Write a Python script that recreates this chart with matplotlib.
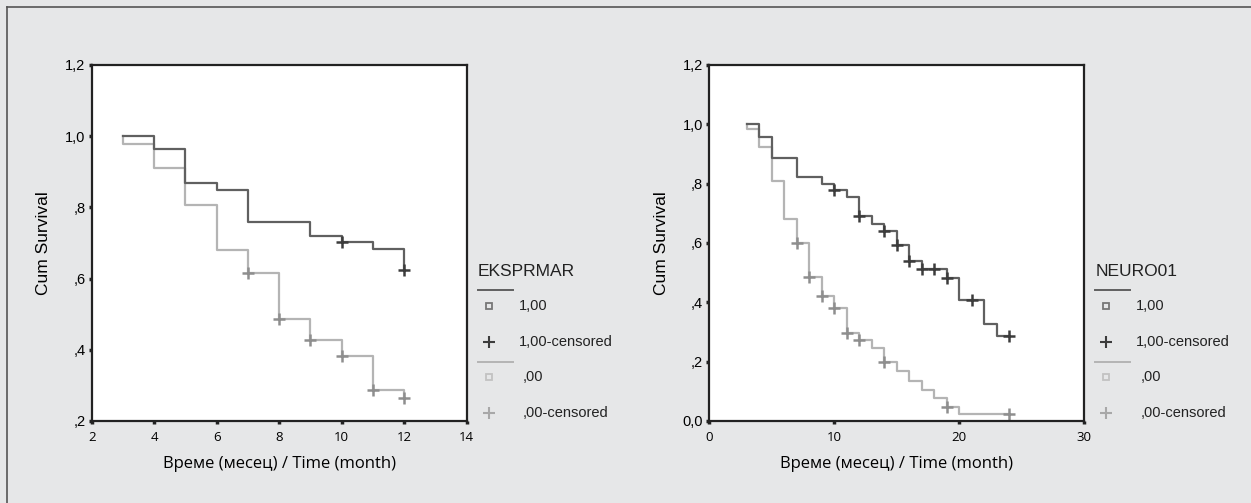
import matplotlib
matplotlib.use("Agg")
import matplotlib.pyplot as plt
from matplotlib.lines import Line2D

# ---- data ----
# left panel: EKSPRMAR
eks_hi_t = [3, 4, 5, 6, 7, 9, 10, 11, 12]
eks_hi_s = [1.0, 0.964, 0.869, 0.850, 0.758, 0.721, 0.703, 0.684, 0.625]
eks_hi_cens_t = [10, 12]
eks_hi_cens_s = [0.703, 0.625]
eks_lo_t = [3, 3, 4, 5, 6, 7, 8, 9, 10, 11, 12]
eks_lo_s = [1.0, 0.978, 0.912, 0.807, 0.681, 0.615, 0.486, 0.427, 0.383, 0.288, 0.265]
eks_lo_cens_t = [7, 8, 9, 10, 11, 12]
eks_lo_cens_s = [0.615, 0.486, 0.427, 0.383, 0.288, 0.265]

# right panel: NEURO01
neu_hi_t = [3, 4, 5, 7, 9, 10, 11, 12, 13, 14, 15, 16, 17, 19, 20, 22, 23, 24]
neu_hi_s = [1.0, 0.958, 0.888, 0.822, 0.798, 0.778, 0.755, 0.691, 0.663, 0.640,
            0.593, 0.539, 0.511, 0.482, 0.407, 0.326, 0.287, 0.287]
neu_hi_cens_t = [10, 12, 14, 15, 16, 17, 18, 19, 21, 24]
neu_hi_cens_s = [0.778, 0.691, 0.640, 0.593, 0.539, 0.511, 0.511, 0.482, 0.407, 0.287]
neu_lo_t = [3, 3, 4, 5, 6, 7, 8, 9, 10, 11, 12, 13, 14, 15, 16, 17, 18, 19, 20, 24]
neu_lo_s = [1.0, 0.983, 0.924, 0.809, 0.682, 0.601, 0.485, 0.420, 0.382, 0.296, 0.273,
            0.245, 0.199, 0.169, 0.135, 0.106, 0.076, 0.046, 0.022, 0.022]
neu_lo_cens_t = [7, 8, 9, 10, 11, 12, 14, 19, 24]
neu_lo_cens_s = [0.601, 0.485, 0.420, 0.382, 0.296, 0.273, 0.199, 0.046, 0.022]

eks_xticks = [2, 4, 6, 8, 10, 12, 14]
eks_yticks = [0.2, 0.4, 0.6, 0.8, 1.0, 1.2]
eks_ylabels = [",2", ",4", ",6", ",8", "1,0", "1,2"]
neu_xticks = [0, 10, 20, 30]
neu_yticks = [0.0, 0.2, 0.4, 0.6, 0.8, 1.0, 1.2]
neu_ylabels = ["0,0", ",2", ",4", ",6", ",8", "1,0", "1,2"]

group_labels = ["1,00", "1,00-censored", ",00", ",00-censored"]

BG = "#e6e7e8"
DARK = "#606060"
LIGHT = "#b4b4b4"
DARK_MK = "#3c3c3c"
LIGHT_MK = "#8e8e8e"
W, H = 1251, 503

fig = plt.figure(figsize=(W / 100, H / 100), dpi=100, facecolor=BG)


def fx(px):
    return px / W


def fy(py):
    return 1 - py / H


# outer frame (top and left only, the rest is cropped off)
fig.add_artist(Line2D([fx(7), 1], [fy(7), fy(7)], color="#555555", lw=1.2))
fig.add_artist(Line2D([fx(7), fx(7)], [fy(7), 0], color="#555555", lw=1.2))


def panel(left_px, xr, yr, xticks, yticks, ylabels, hi, lo, title):
    ax = fig.add_axes([fx(left_px), fy(421), 375 / W, 356 / H])
    ax.set_facecolor("white")
    ax.step(lo[0], lo[1], where="post", color=LIGHT, lw=1.6)
    ax.step(hi[0], hi[1], where="post", color=DARK, lw=1.6)
    ax.plot(lo[2], lo[3], "+", color=LIGHT_MK, ms=9, mew=1.8)
    ax.plot(hi[2], hi[3], "+", color=DARK_MK, ms=9, mew=1.8)
    ax.set_xlim(*xr)
    ax.set_ylim(*yr)
    ax.set_xticks(xticks)
    ax.set_xticklabels([str(t) for t in xticks], family="Open Sans", fontsize=9.5)
    ax.set_yticks(yticks)
    ax.set_yticklabels(ylabels, family="Liberation Sans", fontsize=10.5)
    ax.tick_params(direction="out", length=2.5, width=2.5, color="#222222", pad=2)
    ax.tick_params(axis="x", pad=4.5)
    for sp in ax.spines.values():
        sp.set_linewidth(1.6)
        sp.set_color("#222222")
    ax.set_xlabel("Време (месец) / Time (month)", family="Open Sans", fontsize=12,
                  labelpad=9)
    ax.set_ylabel("Cum Survival", family="Liberation Sans", fontsize=12.5, labelpad=10)

    # legend, drawn beside the axes
    lx = left_px + 386
    fig.text(fx(lx), fy(271), title, family="Liberation Sans", fontsize=12.5,
             va="center", ha="left", color="#222222")
    tx = lx + 41
    fig.add_artist(Line2D([fx(lx), fx(lx + 35)], [fy(290), fy(290)], color=DARK, lw=1.4))
    fig.add_artist(Line2D([fx(lx + 11)], [fy(306)], marker="s", ms=4, mfc=BG,
                          mec="#777777", mew=1.3, ls="none"))
    fig.text(fx(tx), fy(306), group_labels[0], family="Liberation Sans", fontsize=10.5,
             va="center", ha="left", color="#222222")
    fig.add_artist(Line2D([fx(lx + 11)], [fy(342)], marker="+", ms=8, mec=DARK_MK,
                          mew=1.5, ls="none"))
    fig.text(fx(tx), fy(342), group_labels[1], family="Liberation Sans", fontsize=10.5,
             va="center", ha="left", color="#222222")
    fig.add_artist(Line2D([fx(lx), fx(lx + 35)], [fy(362), fy(362)], color=LIGHT, lw=1.4))
    fig.add_artist(Line2D([fx(lx + 11)], [fy(377)], marker="s", ms=4, mfc=BG,
                          mec="#c2c2c2", mew=1.3, ls="none"))
    fig.text(fx(tx + 4), fy(377), group_labels[2], family="Liberation Sans", fontsize=10.5,
             va="center", ha="left", color="#222222")
    fig.add_artist(Line2D([fx(lx + 11)], [fy(413)], marker="+", ms=8, mec="#a8a8a8",
                          mew=1.5, ls="none"))
    fig.text(fx(tx + 4), fy(413), group_labels[3], family="Liberation Sans", fontsize=10.5,
             va="center", ha="left", color="#222222")
    return ax


panel(91.7, (2, 14), (0.2, 1.2), eks_xticks, eks_yticks, eks_ylabels,
      (eks_hi_t, eks_hi_s, eks_hi_cens_t, eks_hi_cens_s),
      (eks_lo_t, eks_lo_s, eks_lo_cens_t, eks_lo_cens_s), "EKSPRMAR")
panel(709.3, (0, 30), (0.0, 1.2), neu_xticks, neu_yticks, neu_ylabels,
      (neu_hi_t, neu_hi_s, neu_hi_cens_t, neu_hi_cens_s),
      (neu_lo_t, neu_lo_s, neu_lo_cens_t, neu_lo_cens_s), "NEURO01")

fig.savefig("out.png", dpi=100, facecolor=BG)
